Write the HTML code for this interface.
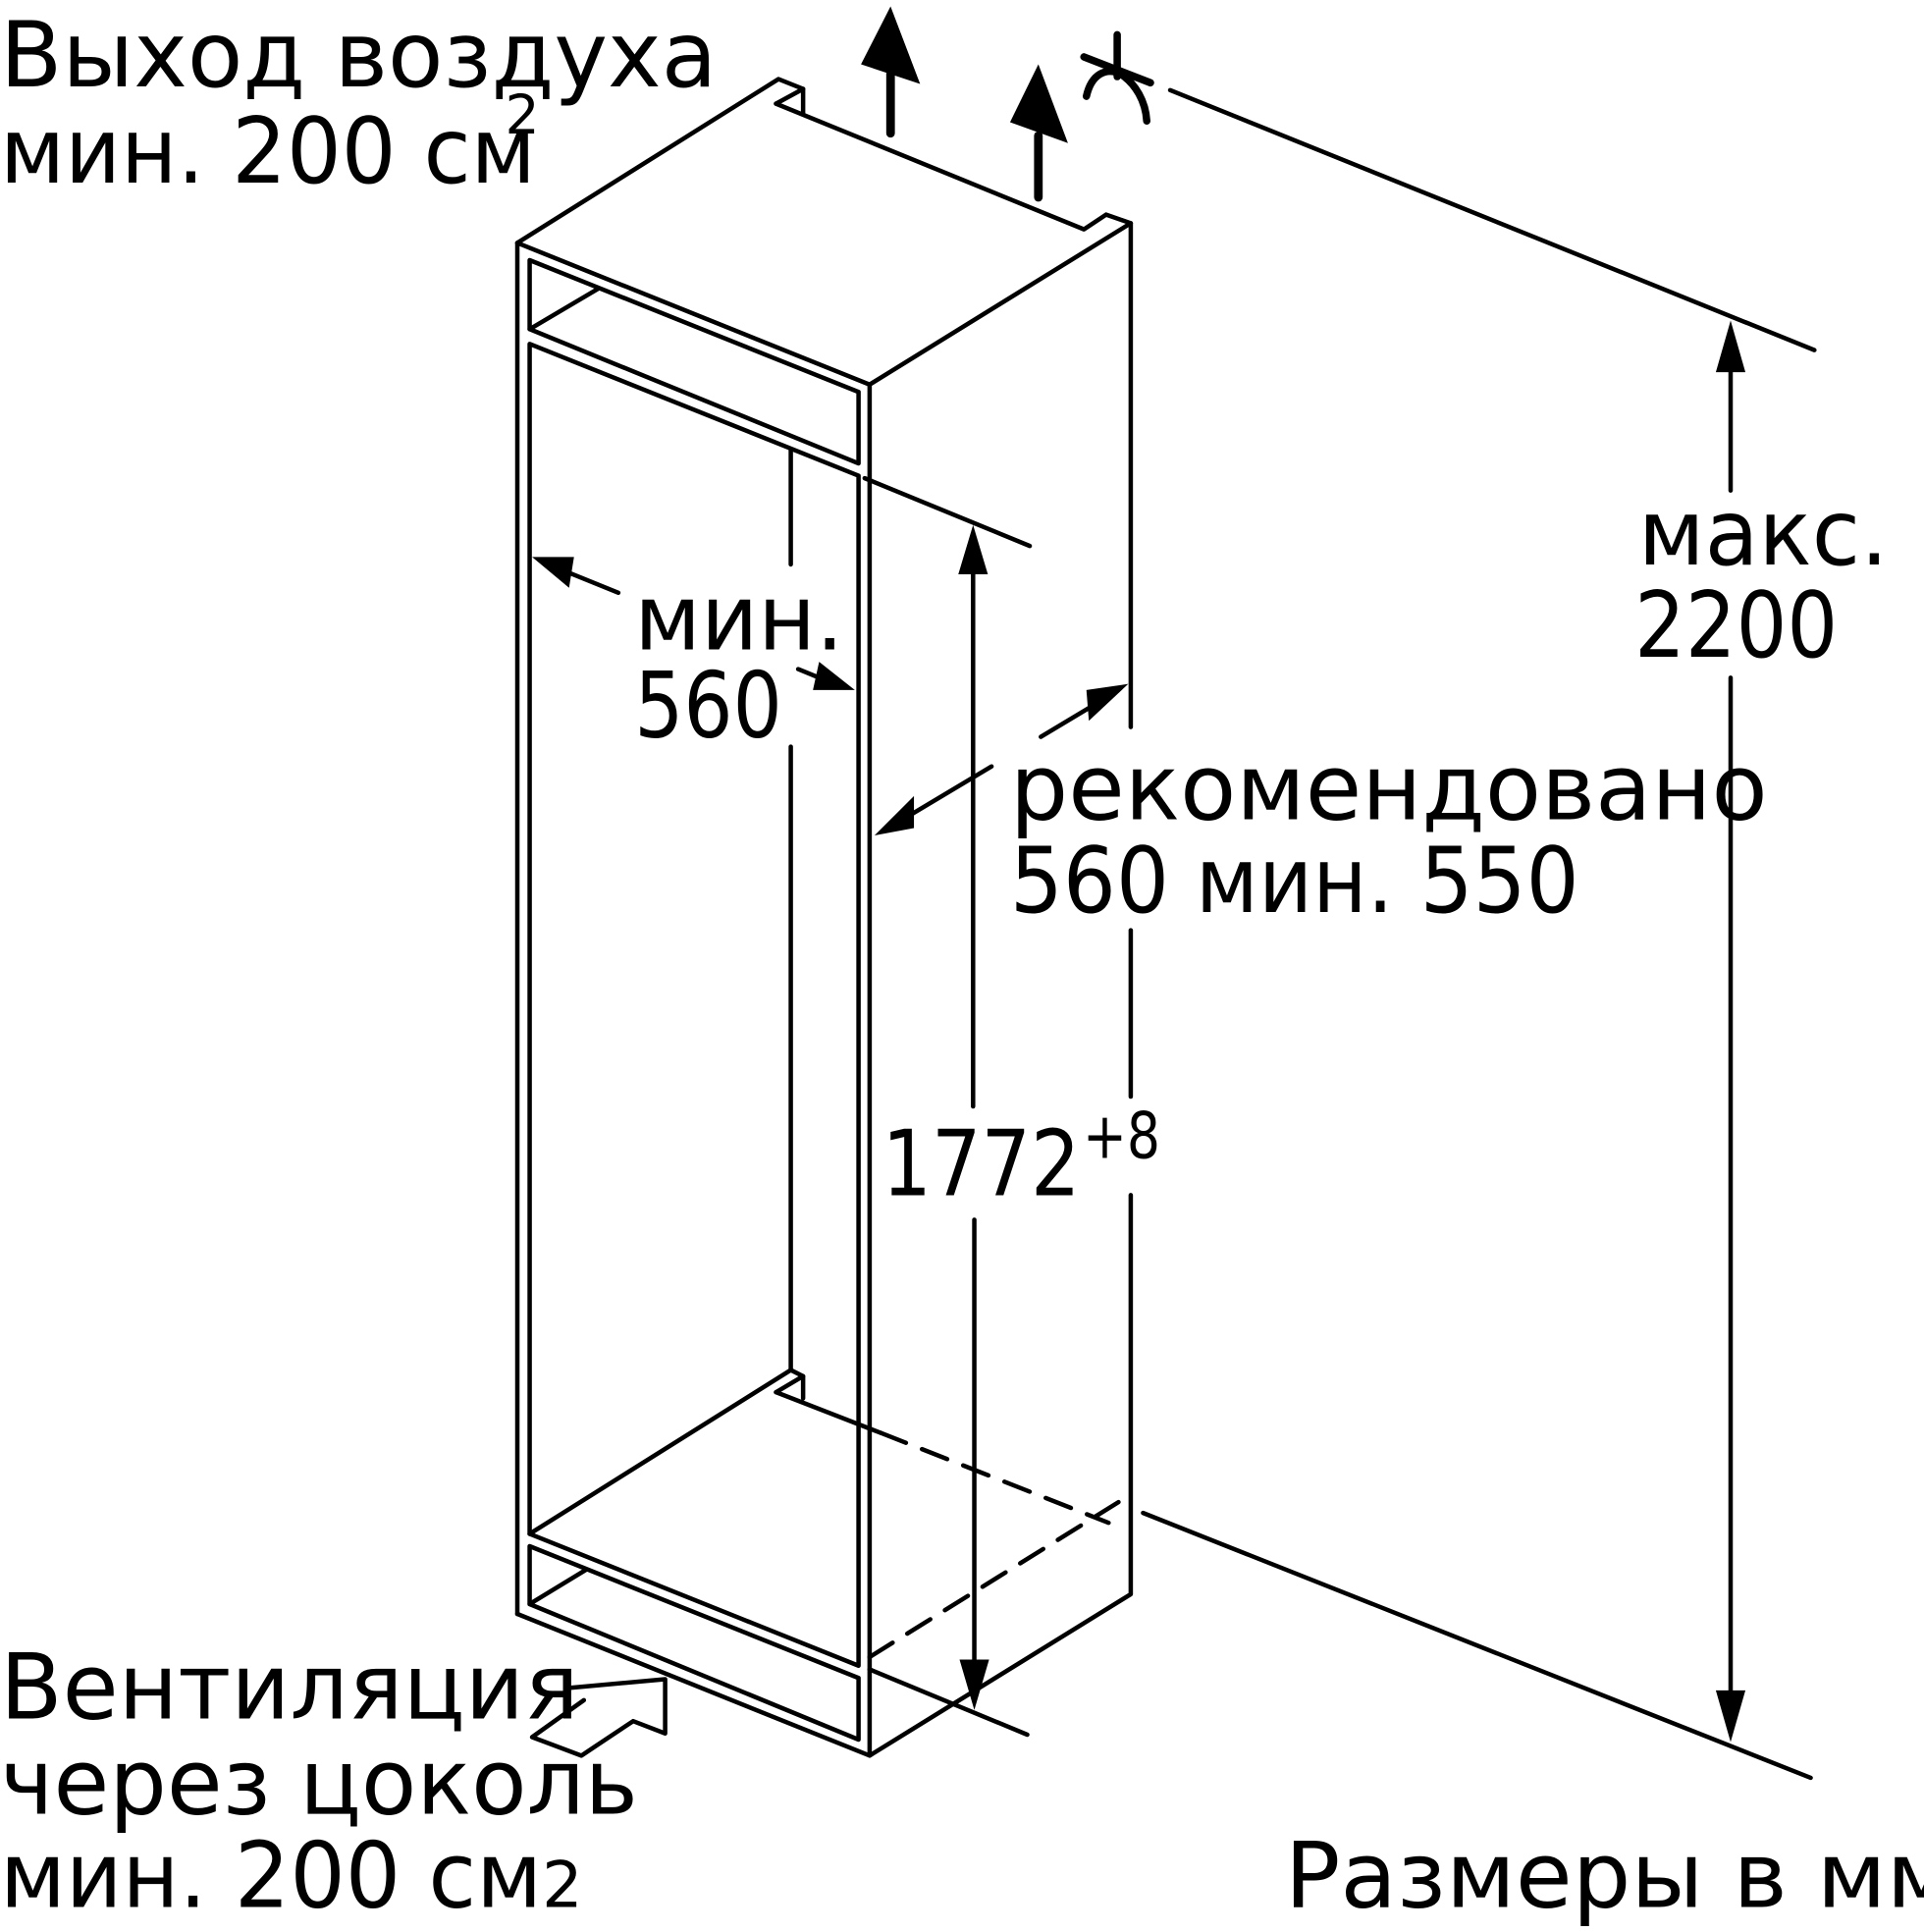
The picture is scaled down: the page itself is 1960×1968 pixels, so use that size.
<!DOCTYPE html>
<html><head><meta charset="utf-8"><style>
html,body{margin:0;padding:0;background:#fff;}
svg{display:block;}
text{font-family:"DejaVu Sans","Liberation Sans",sans-serif;fill:#000;}
</style></head><body>
<svg width="1960" height="1968" viewBox="0 0 1562 1568" xmlns="http://www.w3.org/2000/svg">
<g fill="none" stroke="#000" stroke-width="3.6" stroke-linejoin="round" stroke-linecap="round">
<path d="M420,197 L632,64 L652,72 L652,92"/>
<path d="M630,84 L652,72"/>
<path d="M630,84 L880,186 L898,174 L918,181 L706,312 L420,197"/>
<line x1="420" y1="197" x2="420" y2="1310"/>
<path d="M420,1310 L706,1425 L918,1294 L918,970"/>
<line x1="918" y1="181" x2="918" y2="590"/>
<line x1="918" y1="755" x2="918" y2="890"/>
<line x1="706" y1="312" x2="706" y2="1425"/>
<path d="M430,211 L697,318 L697,376 L430,267 Z"/>
<line x1="430" y1="267" x2="486" y2="234"/>
<path d="M430,279 L697,386 L697,1352 L430,1245 Z"/>
<path d="M430,1245 L642,1112 L652,1117 L652,1135"/>
<path d="M630,1130 L652,1117"/>
<line x1="630" y1="1130" x2="715" y2="1163"/>
<line x1="715" y1="1163" x2="900" y2="1236" stroke-dasharray="22,14"/>
<line x1="706" y1="1345" x2="910" y2="1218" stroke-dasharray="22,14"/>
<path d="M430,1255 L697,1362 L697,1412 L430,1302 Z"/>
<line x1="430" y1="1302" x2="476" y2="1274"/>
<line x1="642" y1="365" x2="642" y2="458"/>
<line x1="642" y1="606" x2="642" y2="1112"/>
<line x1="702" y1="388" x2="836" y2="443"/>
<line x1="706" y1="1355" x2="834" y2="1408"/>
<line x1="950" y1="73" x2="1473" y2="284"/>
<line x1="928" y1="1228" x2="1470" y2="1443"/>
<line x1="1405" y1="290" x2="1405" y2="398"/>
<line x1="1405" y1="550" x2="1405" y2="1385"/>
<line x1="790" y1="455" x2="790" y2="898"/>
<line x1="791" y1="990" x2="791" y2="1360"/>
<line x1="723" y1="108" x2="723" y2="60" stroke-width="7"/>
<line x1="843" y1="160" x2="843" y2="110" stroke-width="7"/>
<line x1="460" y1="464" x2="502" y2="481"/>
<line x1="648" y1="543" x2="670" y2="552"/>
<line x1="738" y1="662" x2="805" y2="622"/>
<line x1="845" y1="598" x2="890" y2="571"/>
<path d="M462,1370 L540,1363 L540,1407 L514,1397 L472,1425 L432,1410 L474,1380"/>
<line x1="907" y1="28" x2="907" y2="62" stroke-width="6"/>
<line x1="880" y1="46" x2="934" y2="67" stroke-width="6"/>
<path d="M882,78 C886,60 898,54 910,60 C922,68 930,82 931,98" stroke-width="6"/>
</g>
<g fill="#000" stroke="none">
<polygon points="723,5 699,52 747,68"/>
<polygon points="843,52 820,99 867,116"/>
<polygon points="1405,260 1393,302 1417,302"/>
<polygon points="1405,1414 1393,1372 1417,1372"/>
<polygon points="790,426 778,466 802,466"/>
<polygon points="791,1388 779,1347 803,1347"/>
<polygon points="432,452 466,452 462,477"/>
<polygon points="694,560 660,560 665,537"/>
<polygon points="710,678 742,646 742,672"/>
<polygon points="916,555 882,560 884,585"/>
</g>
<g font-size="74">
<text x="0" y="70" textLength="582" lengthAdjust="spacingAndGlyphs">Выход воздуха</text>
<text x="0" y="148" textLength="435" lengthAdjust="spacingAndGlyphs">мин. 200 см</text>
<text x="410" y="108" font-size="44">2</text>
<text x="515" y="527" textLength="170" lengthAdjust="spacingAndGlyphs">мин.</text>
<text x="515" y="598" textLength="120" lengthAdjust="spacingAndGlyphs">560</text>
<text x="1330" y="458" textLength="203" lengthAdjust="spacingAndGlyphs">макс.</text>
<text x="1327" y="533" textLength="165" lengthAdjust="spacingAndGlyphs">2200</text>
<text x="820" y="665" textLength="615" lengthAdjust="spacingAndGlyphs">рекомендовано</text>
<text x="820" y="740" textLength="462" lengthAdjust="spacingAndGlyphs">560 мин. 550</text>
<text x="716" y="970" textLength="161" lengthAdjust="spacingAndGlyphs">1772</text>
<text x="879" y="940" font-size="52" textLength="63" lengthAdjust="spacingAndGlyphs">+8</text>
<text x="0" y="1395" textLength="470" lengthAdjust="spacingAndGlyphs">Вентиляция</text>
<text x="0" y="1472" textLength="518" lengthAdjust="spacingAndGlyphs">через цоколь</text>
<text x="0" y="1548" textLength="440" lengthAdjust="spacingAndGlyphs">мин. 200 см</text>
<text x="440" y="1548" font-size="52">2</text>
<text x="1043" y="1548" textLength="545" lengthAdjust="spacingAndGlyphs">Размеры в мм</text>
</g>
</svg>
</body></html>
